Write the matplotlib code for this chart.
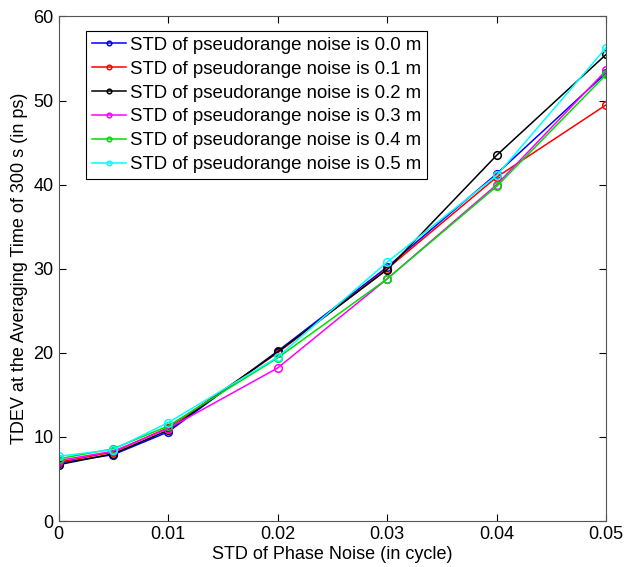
import matplotlib
matplotlib.use("Agg")
import matplotlib.pyplot as plt

plt.rcParams['font.family'] = ['Liberation Sans', 'DejaVu Sans']

# x-values: STD of phase noise (cycle)
phase_std = [0, 0.005, 0.01, 0.02, 0.03, 0.04, 0.05]

# TDEV at 300 s (ps), one series per pseudorange noise level
tdev_00 = [6.9, 7.9, 10.6, 20.2, 30.2, 41.3, 53.3]
tdev_01 = [7.0, 8.2, 11.1, 20.0, 30.0, 40.9, 49.5]
tdev_02 = [6.7, 8.0, 10.8, 20.1, 29.9, 43.5, 55.5]
tdev_03 = [7.2, 8.3, 11.0, 18.2, 28.8, 40.0, 53.6]
tdev_04 = [7.4, 8.6, 11.3, 19.4, 28.8, 39.8, 53.1]
tdev_05 = [7.7, 8.5, 11.7, 19.5, 30.8, 41.1, 56.3]

series = [tdev_00, tdev_01, tdev_02, tdev_03, tdev_04, tdev_05]
labels = ["STD of pseudorange noise is 0.0 m",
          "STD of pseudorange noise is 0.1 m",
          "STD of pseudorange noise is 0.2 m",
          "STD of pseudorange noise is 0.3 m",
          "STD of pseudorange noise is 0.4 m",
          "STD of pseudorange noise is 0.5 m"]
colors = ['#0000ff', '#ff0000', '#000000', '#ff00ff', '#00dd00', '#00ffff']

fig = plt.figure(figsize=(6.26, 5.67), dpi=100)
ax = fig.add_axes([0.0935, 0.081, 0.875, 0.890])

for y, lab, c in zip(series, labels, colors):
    ax.plot(phase_std, y, color=c, linewidth=1.1, marker='o', markersize=5.5,
            markerfacecolor='none', markeredgewidth=1.1, label=lab)

ax.set_xlim(0, 0.05)
ax.set_ylim(0, 60)
ax.set_xticks([0, 0.01, 0.02, 0.03, 0.04, 0.05])
ax.set_xticklabels(["0", "0.01", "0.02", "0.03", "0.04", "0.05"])
ax.set_yticks(range(0, 61, 10))
ax.tick_params(direction='in', top=True, right=True, labelsize=13, length=5)
for s in ax.spines.values():
    s.set_color('#555555')

ax.set_xlabel("STD of Phase Noise (in cycle)", fontsize=13, labelpad=2)
ax.set_ylabel("TDEV at the Averaging Time of 300 s (in ps)", fontsize=13)

leg = ax.legend(loc='upper left', bbox_to_anchor=(0.050, 0.971), borderaxespad=0,
                fontsize=13.4, fancybox=False, framealpha=1, edgecolor='black',
                handlelength=1.85, handletextpad=0.22, borderpad=0.3,
                labelspacing=0.37, markerscale=0.6)
leg.get_frame().set_linewidth(0.8)

fig.savefig("out.png", dpi=100)
